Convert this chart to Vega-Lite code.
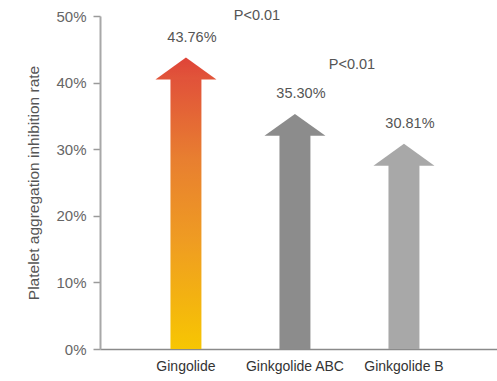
{
  "$schema": "https://vega.github.io/schema/vega-lite/v6.json",
  "width": 397,
  "height": 333,
  "autosize": {"type": "none"},
  "padding": {"left": 100, "top": 16, "right": 0, "bottom": 32},
  "background": "white",
  "config": {
    "view": {"stroke": null},
    "font": "Liberation Sans"
  },
  "datasets": {
    "rates": [
      {"drug": "Gingolide", "rate": 0.4376, "label": "43.76%"},
      {"drug": "Ginkgolide ABC", "rate": 0.353, "label": "35.30%"},
      {"drug": "Ginkgolide B", "rate": 0.3081, "label": "30.81%"}
    ],
    "notes": [
      {"drug": "Gingolide", "pos": 0.5, "text": "P<0.01"},
      {"drug": "Ginkgolide ABC", "pos": 0.426, "text": "P<0.01"}
    ]
  },
  "encoding": {
    "x": {
      "field": "drug",
      "type": "nominal",
      "sort": ["Gingolide", "Ginkgolide ABC", "Ginkgolide B"],
      "scale": {"paddingInner": 0.716, "paddingOuter": 0.679, "align": 0.476},
      "axis": {
        "title": null,
        "labelAngle": 0,
        "ticks": false,
        "labelPadding": 10,
        "labelFontSize": 14,
        "labelColor": "#333333",
        "domainColor": "#8a8a8a",
        "domainWidth": 1.5
      }
    }
  },
  "layer": [
    {
      "data": {"name": "rates"},
      "transform": [{"filter": "datum.drug === 'Gingolide'"}],
      "mark": {
        "type": "bar",
        "yOffset": 21,
        "fill": {
          "gradient": "linear",
          "x1": 0, "y1": 1, "x2": 0, "y2": 0,
          "stops": [
            {"offset": 0, "color": "#f7c602"},
            {"offset": 0.4, "color": "#ef9c22"},
            {"offset": 0.7, "color": "#e87f30"},
            {"offset": 1, "color": "#e1523a"}
          ]
        }
      },
      "encoding": {
        "y": {
          "field": "rate",
          "type": "quantitative",
          "scale": {"domain": [0, 0.5], "nice": false},
          "axis": {
            "title": "Platelet aggregation inhibition rate",
            "titleFontSize": 15.5,
            "titleFontWeight": "normal",
            "titleColor": "#555555",
            "titlePadding": 14,
            "values": [0, 0.05, 0.1, 0.15, 0.2, 0.25, 0.3, 0.35, 0.4, 0.45, 0.5],
            "labelExpr": "round(datum.value * 100) % 10 === 0 ? round(datum.value * 100) + '%' : ''",
            "labelFontSize": 15,
            "labelColor": "#666666",
            "labelPadding": 7,
            "tickSize": 7,
            "tickColor": "#9a9a9a",
            "tickWidth": 1.5,
            "domainColor": "#a8a8a8",
            "domainWidth": 2,
            "grid": false
          }
        },
        "y2": {"datum": 0}
      }
    },
    {
      "data": {"name": "rates"},
      "transform": [{"filter": "datum.drug === 'Gingolide'"}],
      "mark": {
        "type": "point",
        "shape": "M-1,0.72L0,0L1,0.72Z",
        "size": 3721,
        "filled": true,
        "opacity": 1,
        "strokeWidth": 0,
        "fill": {
          "gradient": "linear",
          "x1": 0, "y1": 1, "x2": 0, "y2": 0,
          "stops": [
            {"offset": 0, "color": "#e1563a"},
            {"offset": 1, "color": "#df4338"}
          ]
        }
      },
      "encoding": {
        "y": {"field": "rate", "type": "quantitative"}
      }
    },
    {
      "data": {"name": "rates"},
      "transform": [{"filter": "datum.drug !== 'Gingolide'"}],
      "mark": {"type": "bar", "yOffset": 21},
      "encoding": {
        "y": {"field": "rate", "type": "quantitative"},
        "y2": {"datum": 0},
        "color": {
          "field": "drug",
          "type": "nominal",
          "scale": {"domain": ["Ginkgolide ABC", "Ginkgolide B"], "range": ["#8c8c8c", "#a8a8a8"]},
          "legend": null
        }
      }
    },
    {
      "data": {"name": "rates"},
      "transform": [{"filter": "datum.drug !== 'Gingolide'"}],
      "mark": {
        "type": "point",
        "shape": "M-1,0.72L0,0L1,0.72Z",
        "size": 3721,
        "filled": true,
        "opacity": 1,
        "strokeWidth": 0
      },
      "encoding": {
        "y": {"field": "rate", "type": "quantitative"},
        "color": {
          "field": "drug",
          "type": "nominal",
          "scale": {"domain": ["Ginkgolide ABC", "Ginkgolide B"], "range": ["#8c8c8c", "#a8a8a8"]},
          "legend": null
        }
      }
    },
    {
      "data": {"name": "rates"},
      "mark": {
        "type": "text",
        "baseline": "alphabetic",
        "dy": -16,
        "dx": 6,
        "fontSize": 14.5,
        "color": "#555555"
      },
      "encoding": {
        "y": {"field": "rate", "type": "quantitative"},
        "text": {"field": "label"}
      }
    },
    {
      "data": {"name": "notes"},
      "transform": [{"filter": "datum.drug === 'Gingolide'"}],
      "mark": {
        "type": "text",
        "baseline": "middle",
        "dx": 71,
        "fontSize": 14.5,
        "color": "#555555"
      },
      "encoding": {
        "y": {"field": "pos", "type": "quantitative"},
        "text": {"field": "text"}
      }
    },
    {
      "data": {"name": "notes"},
      "transform": [{"filter": "datum.drug === 'Ginkgolide ABC'"}],
      "mark": {
        "type": "text",
        "baseline": "middle",
        "dx": 57,
        "fontSize": 14.5,
        "color": "#555555"
      },
      "encoding": {
        "y": {"field": "pos", "type": "quantitative"},
        "text": {"field": "text"}
      }
    }
  ]
}
